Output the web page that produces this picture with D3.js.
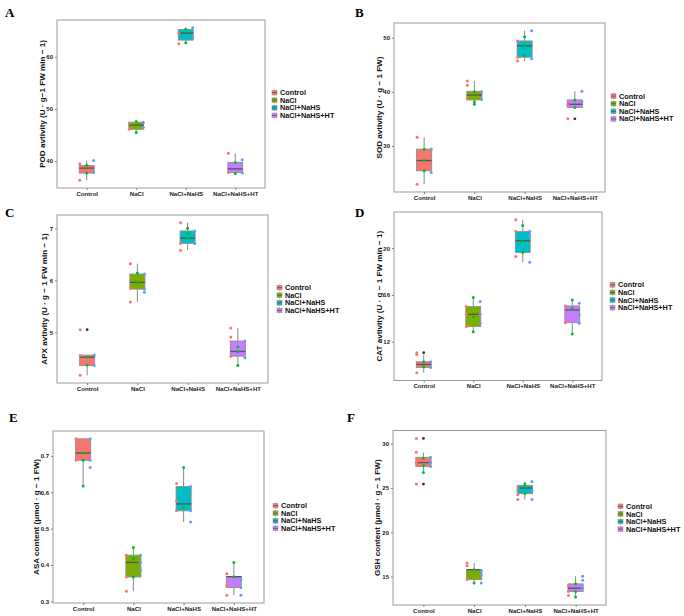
<!DOCTYPE html>
<html><head><meta charset="utf-8">
<script src="https://cdn.jsdelivr.net/npm/d3@7"></script>
<style>body{margin:0;background:#fff}</style>
</head><body><svg id="c" width="684" height="616"></svg>
<script>
const groups = ["Control","NaCl","NaCl+NaHS","NaCl+NaHS+HT"];

// box stats per group: [lower whisker, q1, median, q3, upper whisker]
const podStats = [[36.3,37.7,38.65,39.15,40.1],[45.5,46.1,46.9,47.45,47.6],[62.5,63.2,64.55,65.25,65.6],[37.6,37.8,38.5,39.75,41.5]];
const podRed   = [[39.5,36.3],[47.3,46.1],[64.5,62.5],[41.5,37.8]];
const podGreen = [[39.2,37.7],[47.6,45.5],[65.3,62.7],[39.75,37.6]];
const podBlue  = [[40.1,37.8],[47.45,46.5],[65.6,63.8],[40.25,37.7]];
const podOut   = [[],[],[],[]];
const podTicks = [40,50,60];

const sodStats = [[22.9,25.4,27.3,29.4,31.6],[37.7,38.5,39.4,40.1,42.0],[45.7,46.4,48.5,49.4,51.3],[37.1,37.1,37.7,38.5,40.1]];
const sodRed   = [[31.6,22.9],[42.0,41.2,38.7],[49.4,46.4,45.7],[37.6,35.0]];
const sodGreen = [[29.4,27.3,25.4],[40.0,38.1,37.7],[50.2,48.6,46.7],[38.5,37.1]];
const sodBlue  = [[29.4,25.1],[40.0,38.6],[51.3,46.1],[40.1,38.1]];
const sodOut   = [[],[],[],[35.0]];
const sodTicks = [30,40,50];

const apxStats = [[4.17,4.36,4.52,4.56,4.56],[5.58,5.83,5.96,6.12,6.32],[6.58,6.71,6.81,6.95,7.11],[4.36,4.54,4.63,4.83,5.08]];
const apxRed   = [[5.05,4.55,4.17],[6.32,5.85,5.58],[7.11,6.71,6.58],[5.08,4.91,4.54]];
const apxGreen = [[4.52,4.37],[6.14,5.96],[7.0,6.9,6.81],[4.72,4.63,4.36]];
const apxBlue  = [[4.56,4.36],[6.12,5.83,5.77],[6.95,6.71],[4.83,4.51]];
const apxOut   = [[5.05],[],[],[]];
const apxTicks = [5,6,7];

const catStats = [[9.34,9.8,10.06,10.29,10.9],[12.86,13.29,14.34,15.0,15.77],[18.8,19.63,20.63,21.43,22.43],[12.66,13.63,14.71,15.06,15.57]];
const catRed   = [[11.06,10.9,9.34],[15.0,14.34,13.29],[22.43,21.43,19.29],[15.06,13.63]];
const catGreen = [[10.29,9.86],[15.77,14.14,12.86],[21.94,20.57,19.63],[15.57,14.83,12.66]];
const catBlue  = [[10.29,9.8],[15.43,14.34,13.57],[21.43,21.06,18.8],[15.29,14.29,13.57]];
const catOut   = [[11.06],[],[],[]];
const catTicks = [12,16,20];

const asaStats = [[0.617,0.688,0.708,0.747,0.747],[0.328,0.367,0.407,0.427,0.448],[0.518,0.549,0.568,0.616,0.668],[0.317,0.338,0.368,0.368,0.407]];
const asaRed   = [[0.747,0.688],[0.427,0.367,0.328],[0.624,0.576,0.549],[0.376,0.344,0.317]];
const asaGreen = [[0.708,0.688,0.617],[0.448,0.418,0.367],[0.668,0.558],[0.407,0.368]];
const asaBlue  = [[0.747,0.668,0.688],[0.427,0.407,0.386],[0.616,0.549,0.518],[0.36,0.338,0.317]];
const asaOut   = [[],[],[],[]];
const asaTicks = [0.3,0.4,0.5,0.6,0.7];

const gshStats = [[26.75,27.43,27.87,28.47,29.0],[14.29,14.66,15.78,15.78,16.53],[23.7,24.37,25.0,25.3,25.75],[12.69,13.32,13.69,14.18,15.04]];
const gshRed   = [[30.6,29.03,27.87,25.45],[16.53,16.23,14.66],[25.0,24.25,23.7],[13.99,13.32,12.87]];
const gshGreen = [[28.36,27.54,26.75],[15.78,14.29],[25.45,25.2,24.37],[14.18,13.32,12.69]];
const gshBlue  = [[28.47,27.87,27.43],[15.67,15.19,14.29],[25.75,24.74,23.7],[15.04,14.59,13.69]];
const gshOut   = [[30.6,25.45],[],[],[]];
const gshTicks = [15,20,25,30];

const titles = {
  A: "POD avtivity (U · g−1 FW min − 1)",
  B: "SOD avtivity (U · g − 1 FW)",
  C: "APX avtivity (U · g − 1 FW min − 1)",
  D: "CAT avtivity (U · g − 1 FW min − 1)",
  E: "ASA content (μmol · g − 1 FW)",
  F: "GSH content (μmol · g − 1 FW)"
};

// styles / layout
const fillColors = ["#F8766D","#7CAE00","#00BFC4","#C77CFF"];
const pointColors = {red:"#F8766D", green:"#00BA38", blue:"#619CFF"};
const FONT = "'Liberation Sans', Arial, sans-serif";

const panels = [
  {id:"A", stats:podStats, red:podRed, green:podGreen, blue:podBlue, out:podOut, ticks:podTicks, rect:[57,20,265,188], titleX:45, legendX:272, letter:[5,16.5]},
  {id:"B", stats:sodStats, red:sodRed, green:sodGreen, blue:sodBlue, out:sodOut, ticks:sodTicks, rect:[394,23,605,192], titleX:382, legendX:611, letter:[355,16.5]},
  {id:"C", stats:apxStats, red:apxRed, green:apxGreen, blue:apxBlue, out:apxOut, ticks:apxTicks, rect:[57,215,268,383], titleX:47, legendX:277, letter:[5,217]},
  {id:"D", stats:catStats, red:catRed, green:catGreen, blue:catBlue, out:catOut, ticks:catTicks, rect:[394,212,602,380.5], titleX:382, legendX:610, letter:[355,217]},
  {id:"E", stats:asaStats, red:asaRed, green:asaGreen, blue:asaBlue, out:asaOut, ticks:asaTicks, rect:[53,431,264,603], titleX:38.5, legendX:273, letter:[9,422]},
  {id:"F", stats:gshStats, red:gshRed, green:gshGreen, blue:gshBlue, out:gshOut, ticks:gshTicks, rect:[393,430.5,606,605], titleX:379.5, legendX:618, letter:[347,422]}
];

const svg = d3.select("#c");

panels.forEach(p => {
  const [x0,y0,x1,y1] = p.rect;
  const g = svg.append("g");
  const all = [];
  p.stats.forEach(s => all.push(...s));
  [p.red,p.green,p.blue,p.out].forEach(a => a.forEach(v => all.push(...v)));
  const [mn,mx] = d3.extent(all);
  const pad = (mx-mn)*0.05;
  const y = d3.scaleLinear().domain([mn-pad, mx+pad]).range([y1,y0]);
  const x = d3.scalePoint().domain(groups).range([x0,x1]).padding(0.6);
  const step = x.step();
  const bw = step*0.3;

  // y axis
  const ya = g.append("g").attr("transform",`translate(${x0},0)`)
    .call(d3.axisLeft(y).tickValues(p.ticks).tickSize(2).tickPadding(2).tickFormat(d=>String(d)));
  ya.select(".domain").remove();
  ya.selectAll("line").attr("stroke","#777");
  ya.selectAll("text").attr("font-family",FONT).attr("font-weight","bold").attr("font-size",6).attr("fill","#222");
  // x axis
  const xa = g.append("g").attr("transform",`translate(0,${y1})`)
    .call(d3.axisBottom(x).tickSize(2).tickPadding(1.2));
  xa.select(".domain").remove();
  xa.selectAll("line").attr("stroke","#777");
  xa.selectAll("text").attr("font-family",FONT).attr("font-weight","bold").attr("font-size",6.1).attr("fill","#222");

  // border
  g.append("rect").attr("x",x0).attr("y",y0).attr("width",x1-x0).attr("height",y1-y0)
    .attr("fill","none").attr("stroke","#9a9a9a").attr("stroke-width",1);

  // boxes
  groups.forEach((grp,i) => {
    const s = p.stats[i], cx = x(grp);
    g.append("line").attr("x1",cx).attr("x2",cx).attr("y1",y(s[0])).attr("y2",y(s[1])).attr("stroke","#8a8a8a").attr("stroke-width",1);
    g.append("line").attr("x1",cx).attr("x2",cx).attr("y1",y(s[3])).attr("y2",y(s[4])).attr("stroke","#8a8a8a").attr("stroke-width",1);
    g.append("rect").attr("x",cx-bw/2).attr("y",y(s[3])).attr("width",bw).attr("height",Math.max(0.5,y(s[1])-y(s[3])))
      .attr("fill",fillColors[i]).attr("stroke","#8f8f8f").attr("stroke-width",0.9);
    g.append("line").attr("x1",cx-bw/2).attr("x2",cx+bw/2).attr("y1",y(s[2])).attr("y2",y(s[2])).attr("stroke","#555").attr("stroke-width",1.3);
  });

  // replicate points
  const offs = {red:-0.14, green:0, blue:0.14};
  ["red","green","blue"].forEach(k => {
    groups.forEach((grp,i) => {
      p[k][i].forEach(v => {
        g.append("circle").attr("cx",x(grp)+offs[k]*step).attr("cy",y(v)).attr("r",1.5).attr("fill",pointColors[k]);
      });
    });
  });
  // outliers
  groups.forEach((grp,i) => {
    p.out[i].forEach(v => {
      g.append("circle").attr("cx",x(grp)).attr("cy",y(v)).attr("r",1.4).attr("fill","#333");
    });
  });

  // y title
  const yc = (y0+y1)/2;
  g.append("text").attr("transform",`translate(${p.titleX},${yc}) rotate(-90)`)
    .attr("text-anchor","middle").attr("font-family",FONT).attr("font-weight","bold").attr("font-size",8.1).attr("fill","#111")
    .text(titles[p.id]);

  // legend
  const lsp = 7.6;
  const ly0 = yc - lsp*1.5;
  groups.forEach((grp,i) => {
    const ly = ly0 + i*lsp;
    const lg = g.append("g");
    lg.append("line").attr("x1",p.legendX+2.5).attr("x2",p.legendX+2.5).attr("y1",ly-3.2).attr("y2",ly+3.2).attr("stroke","#999").attr("stroke-width",0.8);
    lg.append("rect").attr("x",p.legendX).attr("y",ly-2.3).attr("width",5).attr("height",4.6).attr("fill",fillColors[i]).attr("stroke","#999").attr("stroke-width",0.6);
    lg.append("line").attr("x1",p.legendX).attr("x2",p.legendX+5).attr("y1",ly).attr("y2",ly).attr("stroke","#555").attr("stroke-width",0.8);
    lg.append("text").attr("x",p.legendX+8).attr("y",ly).attr("dy","0.35em")
      .attr("font-family",FONT).attr("font-weight","bold").attr("font-size",7.3).attr("fill","#111").text(grp);
  });

  // panel letter
  svg.append("text").attr("x",p.letter[0]).attr("y",p.letter[1])
    .attr("font-family","'Liberation Serif', 'Times New Roman', serif").attr("font-weight","bold").attr("font-size",13)
    .text(p.id);
});
</script>
</body></html>
